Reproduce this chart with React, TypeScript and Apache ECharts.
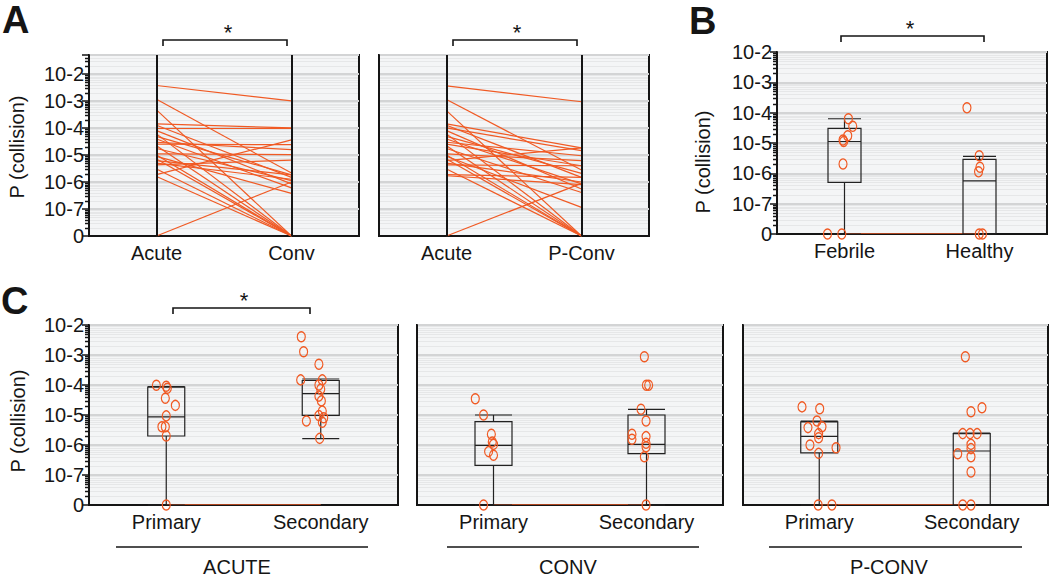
import React, { useEffect, useRef } from 'react';
import * as echarts from 'echarts';

const FONT = '"Liberation Sans", Arial, Helvetica, sans-serif';
const ORANGE = '#f05a24';
const INK = '#151515';
const LOG_MIN = -8; // encodes "0"
const A_MAX = -1.3;
const BC_MAX = -2;

// ---------- Panel A: paired log10 P(collision) values (0 encoded as -8) ----------
const A1_ACUTE = [-2.43, -2.94, -3.33, -3.85, -3.9, -4.0, -4.1, -4.22, -4.31, -4.41, -4.53, -4.66, -4.76, -4.96, -5.05, -5.15, -5.21, -5.37, -5.52, -5.73, -5.8, -8, -4.6, -5.0, -5.3];
const A1_CONV = [-3.0, -5.67, -8, -4.0, -5.83, -4.0, -6.07, -8, -5.74, -6.22, -4.8, -8, -5.95, -4.99, -6.42, -8, -5.74, -5.19, -8, -4.44, -8, -6.0, -4.62, -8, -5.9];
const A2_ACUTE = [-2.44, -2.95, -3.36, -3.85, -3.9, -4.0, -4.1, -4.22, -4.31, -4.41, -4.53, -4.66, -4.76, -4.96, -5.05, -5.15, -5.21, -5.37, -5.52, -5.73, -5.77, -8, -4.6, -5.0, -5.3];
const A2_PCONV = [-3.03, -5.56, -8, -4.74, -5.83, -4.84, -6.26, -8, -5.68, -6.07, -5.03, -8, -6.39, -5.21, -6.94, -8, -4.74, -5.4, -8, -5.83, -6.1, -6.05, -5.4, -8, -6.0];
const A1_LABELS = ['Acute', 'Conv'];
const A2_LABELS = ['Acute', 'P-Conv'];

// ---------- Panel B ----------
const B_CATEGORIES = ['Febrile', 'Healthy'];
// [min, Q1, median, Q3, max]
const B_BOX = [
  [-8, -6.3, -4.95, -4.52, -4.2],
  [-8, -8, -6.25, -5.54, -5.44],
];
const B_POINTS = [
  [0.029, -4.2], [0.061, -4.45], [0.024, -4.76], [-0.011, -4.9], [-0.006, -4.95], [-0.011, -5.69], [-0.126, -8], [-0.02, -8],
  [0.907, -3.84], [0.998, -5.42], [1.003, -5.8], [0.993, -5.95], [0.998, -8], [1.022, -8],
];

// ---------- Panel C ----------
const C_CATEGORIES = ['Primary', 'Secondary'];
const C_GROUPS = ['ACUTE', 'CONV', 'P-CONV'];
const C_ACUTE_BOX = [
  [-8, -5.7, -5.06, -4.07, -4.05],
  [-5.79, -5.01, -4.29, -3.85, -3.8],
];
const C_ACUTE_POINTS = [
  [-0.064, -4.01], [0.0, -4.04], [0.007, -4.11], [-0.006, -4.44], [0.059, -4.68], [0.0, -5.03], [-0.028, -5.39], [-0.006, -5.39], [0.0, -5.7], [0.0, -8],
  [0.874, -2.39], [0.889, -2.89], [0.988, -3.31], [0.87, -3.83], [1.01, -3.83], [0.988, -4.0], [1.0, -4.14], [0.988, -4.37], [1.004, -4.53], [1.01, -4.87], [0.988, -5.02], [1.019, -5.09], [0.907, -5.2], [1.01, -5.24], [0.993, -5.78],
];
const C_CONV_BOX = [
  [-8, -6.68, -6.01, -5.22, -5.0],
  [-8, -6.29, -5.98, -5.0, -4.81],
];
const C_CONV_POINTS = [
  [-0.119, -4.46], [-0.065, -5.0], [-0.014, -5.64], [-0.008, -5.9], [0.0, -5.98], [-0.032, -6.22], [0.0, -6.34], [-0.065, -8],
  [0.986, -3.06], [0.999, -4.01], [1.014, -4.01], [0.964, -4.81], [0.997, -5.2], [0.905, -5.64], [0.905, -5.81], [0.997, -5.72], [0.997, -5.94], [0.997, -6.06], [0.986, -6.39], [0.997, -8],
];
const C_PCONV_BOX = [
  [-8, -6.26, -5.71, -5.23, -5.2],
  [-8, -8, -6.2, -5.62, -5.6],
];
const C_PCONV_POINTS = [
  [-0.113, -4.73], [0.003, -4.79], [-0.015, -5.2], [0.018, -5.39], [-0.074, -5.42], [-0.004, -5.62], [-0.004, -5.76], [-0.061, -6.0], [0.11, -6.09], [-0.004, -6.28], [-0.007, -8], [0.083, -8],
  [0.958, -3.06], [1.067, -4.76], [0.995, -4.89], [0.941, -5.62], [0.989, -5.62], [1.035, -5.62], [0.995, -5.98], [0.995, -6.12], [0.908, -6.29], [0.995, -6.39], [0.995, -6.9], [0.941, -8], [0.995, -8],
];

function minorLevels(max: number): number[] {
  const out: number[] = [];
  for (let d = LOG_MIN; d < max; d++) {
    for (let k = 2; k <= 9; k++) {
      const v = d + Math.log10(k);
      if (v < max - 0.02) out.push(v);
    }
  }
  return out;
}

const tickFormatter = (v: number) => {
  if (Math.abs(v - LOG_MIN) < 1e-9) return '0';
  if (Math.abs(v - Math.round(v)) < 1e-9 && v <= -2) return '10' + Math.round(v);
  return '';
};

function yAxis(gridIndex: number, max: number, labels: boolean) {
  return {
    type: 'value', gridIndex, min: LOG_MIN, max, interval: 1,
    axisLine: { show: true, onZero: false, lineStyle: { color: INK, width: 2 } },
    axisTick: { show: labels, length: 7, lineStyle: { color: INK, width: 1.5 } },
    axisLabel: { show: labels, formatter: tickFormatter, fontSize: 20, color: INK, fontFamily: FONT, margin: 5 },
    splitLine: { show: true, lineStyle: { color: '#d3d4d5', width: 2 } },
  };
}

function minorSeries(xIdx: number, yIdx: number, max: number, ticks: boolean, xAnchor: number) {
  return {
    type: 'custom', xAxisIndex: xIdx, yAxisIndex: yIdx, silent: true, clip: false, z: 1,
    data: minorLevels(max).map((v) => [xAnchor, v]),
    renderItem: (params: any, api: any) => {
      const cs = params.coordSys;
      const p = api.coord([api.value(0), api.value(1)]);
      const y = Math.round(p[1]) + 0.5;
      const children: any[] = [
        { type: 'line', silent: true, shape: { x1: cs.x + 1, y1: y, x2: cs.x + cs.width - 1, y2: y }, style: { stroke: '#e6e7e8', lineWidth: 1, fill: null } },
      ];
      if (ticks) children.push({ type: 'line', silent: true, shape: { x1: cs.x - 4, y1: y, x2: cs.x, y2: y }, style: { stroke: INK, lineWidth: 1.5, fill: null } });
      return { type: 'group', children };
    },
  };
}

function pairSeries(xIdx: number, yIdx: number, left: number[], right: number[]) {
  return {
    type: 'lines', coordinateSystem: 'cartesian2d', xAxisIndex: xIdx, yAxisIndex: yIdx, silent: true, z: 2,
    lineStyle: { color: ORANGE, width: 1.2, opacity: 1 },
    data: left.map((v, i) => ({ coords: [[1, v], [2, right[i]]] })),
  };
}

function columnSeries(xIdx: number, yIdx: number, max: number) {
  return {
    type: 'lines', coordinateSystem: 'cartesian2d', xAxisIndex: xIdx, yAxisIndex: yIdx, silent: true, z: 3,
    lineStyle: { color: INK, width: 2, opacity: 1 },
    data: [1, 2].map((x) => ({ coords: [[x, LOG_MIN], [x, max]] })),
  };
}

function boxSeries(xIdx: number, yIdx: number, data: number[][], w: number) {
  return {
    type: 'boxplot', xAxisIndex: xIdx, yAxisIndex: yIdx, silent: true, z: 3,
    boxWidth: [w, w],
    itemStyle: { color: 'rgba(0,0,0,0)', borderColor: '#222', borderWidth: 1.2 },
    data,
  };
}

function baseLineSeries(xIdx: number, yIdx: number) {
  return {
    type: 'lines', coordinateSystem: 'cartesian2d', xAxisIndex: xIdx, yAxisIndex: yIdx, silent: true, z: 2,
    lineStyle: { color: ORANGE, width: 1, opacity: 0.7 },
    data: [{ coords: [[0, LOG_MIN + 0.03], [1, LOG_MIN + 0.03]] }],
  };
}

function pointSeries(xIdx: number, yIdx: number, data: number[][]) {
  return {
    type: 'scatter', xAxisIndex: xIdx, yAxisIndex: yIdx, silent: true, z: 4,
    symbol: 'circle', symbolSize: [8, 10],
    itemStyle: { color: 'rgba(0,0,0,0)', borderColor: ORANGE, borderWidth: 1.3, opacity: 1 },
    data,
  };
}

function pairXAxis(gridIndex: number, labels: string[]) {
  return {
    type: 'value', gridIndex, min: 0.5, max: 2.5, interval: 0.5,
    axisLine: { show: true, onZero: false, lineStyle: { color: INK, width: 2 } },
    axisTick: { show: false },
    splitLine: { show: false },
    axisLabel: {
      fontSize: 20, color: INK, fontFamily: FONT, margin: 7,
      formatter: (v: number) => (v === 1 ? labels[0] : v === 2 ? labels[1] : ''),
    },
  };
}

function catXAxis(gridIndex: number, cats: string[]) {
  return {
    type: 'category', gridIndex, data: cats, boundaryGap: true,
    axisLine: { show: true, onZero: false, lineStyle: { color: INK, width: 2 } },
    axisTick: { show: false },
    splitLine: { show: false },
    axisLabel: { fontSize: 20, color: INK, fontFamily: FONT, margin: 7 },
  };
}

function hiddenXAxis(gridIndex: number) {
  return {
    type: 'value', gridIndex, min: -0.5, max: 1.5, show: false,
    axisLine: { show: false, onZero: false }, axisTick: { show: false }, axisLabel: { show: false }, splitLine: { show: false },
  };
}

function txt(x: number, y: number, text: string, size: number, extra: any = {}) {
  return {
    type: 'text', x, y, rotation: extra.rotation || 0, silent: true,
    style: {
      text, fill: INK, fontSize: size, fontFamily: FONT, fontWeight: extra.weight || 'normal',
      align: extra.align || 'center', verticalAlign: 'middle',
      textAlign: extra.align || 'center', textVerticalAlign: 'middle',
    },
  };
}

function bracket(x1: number, x2: number, y: number, drop: number) {
  return {
    type: 'polyline', silent: true,
    shape: { points: [[x1, y + drop], [x1, y], [x2, y], [x2, y + drop]] },
    style: { stroke: INK, lineWidth: 1.6, fill: 'none' },
  };
}

function hline(x1: number, x2: number, y: number) {
  return { type: 'line', silent: true, shape: { x1, y1: y, x2, y2: y }, style: { stroke: INK, lineWidth: 1.5 } };
}

export default function App() {
  const ref = useRef<HTMLDivElement>(null);
  useEffect(() => {
    if (!ref.current) return;
    const chart = echarts.init(ref.current, undefined, { renderer: 'svg' });
    const gridBase = { show: true, backgroundColor: '#f4f5f6', borderColor: INK, borderWidth: 2, containLabel: false };
    const option: any = {
      animation: false,
      textStyle: { fontFamily: FONT },
      grid: [
        { left: 89, top: 55, width: 270, height: 181 },
        { left: 379, top: 55, width: 270, height: 181 },
        { left: 777, top: 52, width: 270, height: 182 },
        { left: 89, top: 325, width: 309, height: 180 },
        { left: 417, top: 325, width: 306, height: 180 },
        { left: 743, top: 325, width: 305, height: 180 },
      ].map((g) => ({ ...g, ...gridBase })),
      xAxis: [
        pairXAxis(0, A1_LABELS),
        pairXAxis(1, A2_LABELS),
        catXAxis(2, B_CATEGORIES), hiddenXAxis(2),
        catXAxis(3, C_CATEGORIES), hiddenXAxis(3),
        catXAxis(4, C_CATEGORIES), hiddenXAxis(4),
        catXAxis(5, C_CATEGORIES), hiddenXAxis(5),
      ],
      yAxis: [
        yAxis(0, A_MAX, true),
        yAxis(1, A_MAX, false),
        yAxis(2, BC_MAX, true),
        yAxis(3, BC_MAX, true),
        yAxis(4, BC_MAX, false),
        yAxis(5, BC_MAX, false),
      ],
      series: [
        minorSeries(0, 0, A_MAX, true, 0.5),
        minorSeries(1, 1, A_MAX, false, 0.5),
        minorSeries(3, 2, BC_MAX, true, -0.5),
        minorSeries(5, 3, BC_MAX, true, -0.5),
        minorSeries(7, 4, BC_MAX, false, -0.5),
        minorSeries(9, 5, BC_MAX, false, -0.5),
        pairSeries(0, 0, A1_ACUTE, A1_CONV),
        pairSeries(1, 1, A2_ACUTE, A2_PCONV),
        columnSeries(0, 0, A_MAX),
        columnSeries(1, 1, A_MAX),
        baseLineSeries(3, 2),
        baseLineSeries(5, 3),
        baseLineSeries(7, 4),
        baseLineSeries(9, 5),
        boxSeries(2, 2, B_BOX, 33),
        boxSeries(4, 3, C_ACUTE_BOX, 37),
        boxSeries(6, 4, C_CONV_BOX, 37),
        boxSeries(8, 5, C_PCONV_BOX, 37),
        pointSeries(3, 2, B_POINTS),
        pointSeries(5, 3, C_ACUTE_POINTS),
        pointSeries(7, 4, C_CONV_POINTS),
        pointSeries(9, 5, C_PCONV_POINTS),
      ],
      graphic: [
        txt(2, 20, 'A', 38, { weight: 'bold', align: 'left' }),
        txt(689, 21, 'B', 38, { weight: 'bold', align: 'left' }),
        txt(1, 301, 'C', 38, { weight: 'bold', align: 'left' }),
        txt(17, 147, 'P (collision)', 20, { rotation: Math.PI / 2 }),
        txt(703, 162, 'P (collision)', 20, { rotation: Math.PI / 2 }),
        txt(17.5, 421, 'P (collision)', 20, { rotation: Math.PI / 2 }),
        bracket(163, 287, 40, 6), txt(228, 32, '*', 22),
        bracket(453, 577, 40, 6), txt(517, 32, '*', 22),
        bracket(841, 984, 36, 6), txt(910, 28, '*', 22),
        bracket(173, 310, 308, 6), txt(244, 300, '*', 22),
        hline(116, 368, 547), txt(237, 567, C_GROUPS[0], 20),
        hline(447, 699, 547), txt(568, 567, C_GROUPS[1], 20),
        hline(769, 1022, 547), txt(889, 567, C_GROUPS[2], 20),
      ],
    };
    chart.setOption(option);
    return () => chart.dispose();
  }, []);
  return (
    <div
      ref={ref}
      style={{ position: 'fixed', left: 0, top: 0, width: 1050, height: 579, background: '#ffffff' }}
    />
  );
}
